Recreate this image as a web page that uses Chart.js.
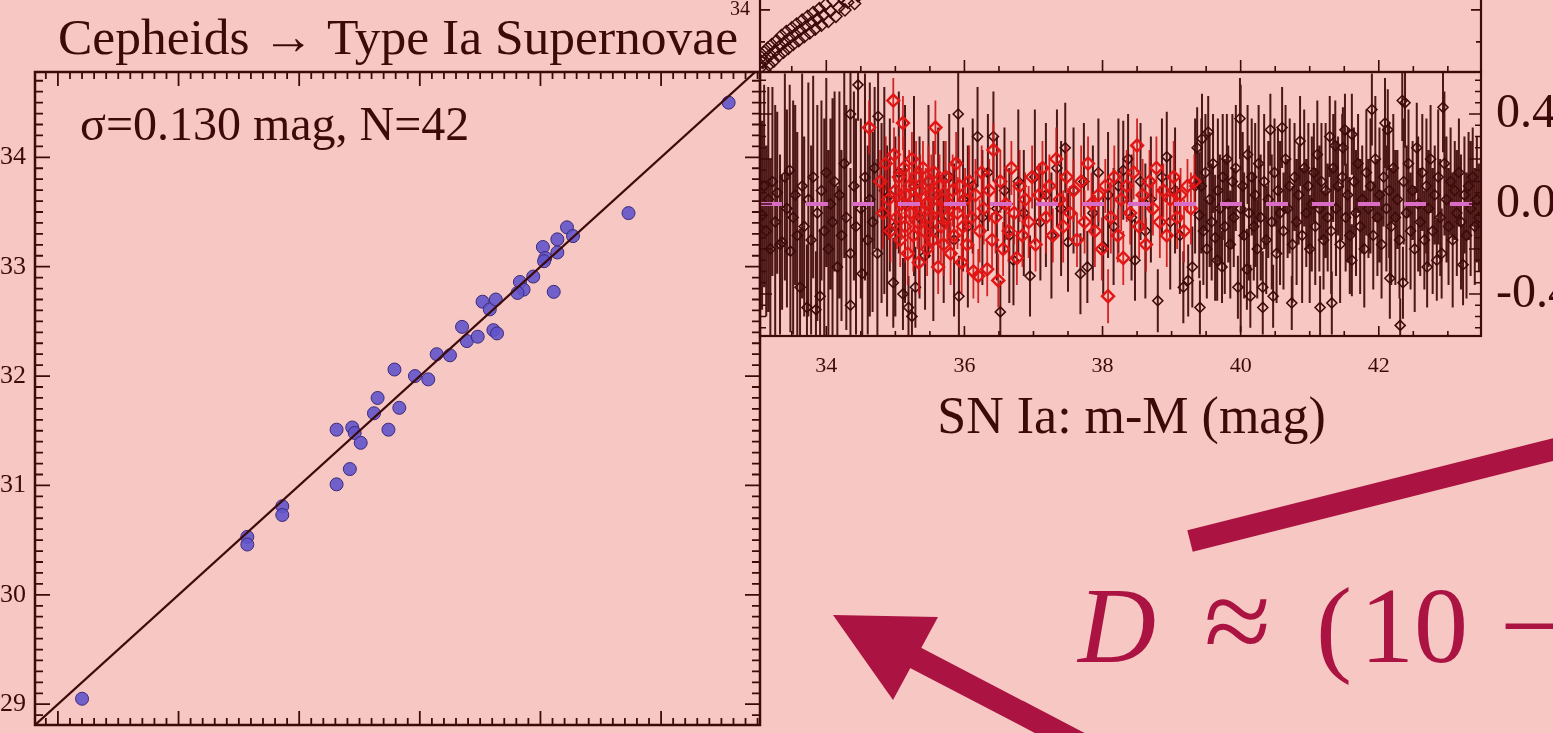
<!DOCTYPE html>
<html>
<head>
<meta charset="utf-8">
<title>Cepheids → Type Ia Supernovae</title>
<script src="https://cdn.jsdelivr.net/npm/chart.js@4.4.1/dist/chart.umd.min.js"></script>
<style>
  html, body { margin: 0; padding: 0; width: 1553px; height: 733px; overflow: hidden; background: #f7c8c3; }
  canvas { position: absolute; }
  #ceph { left: -60px; top: 0; }
  #hubble { left: 700px; top: -230px; }
  #resid { left: 700px; top: 0; }
  #notes { position: absolute; left: 0; top: 0; }
</style>
</head>
<body>
<canvas id="ceph" width="830" height="780"></canvas>
<canvas id="hubble" width="900" height="332"></canvas>
<canvas id="resid" width="900" height="480"></canvas>
<svg id="notes" width="1553" height="733" viewBox="0 0 1553 733">
  <g fill="#ab1342">
    <line x1="1190" y1="541" x2="1575" y2="444" stroke="#ab1342" stroke-width="22"/>
    <line x1="912" y1="656" x2="1100" y2="754" stroke="#ab1342" stroke-width="23"/>
    <polygon points="833,615 938,617 893,700"/>
    <text y="662" font-family="'Liberation Serif', 'Times New Roman', serif" font-size="108">
      <tspan x="1078" font-style="italic">D</tspan><tspan x="1204" font-size="122">≈</tspan><tspan x="1316">(</tspan><tspan x="1360">10</tspan><tspan x="1500">−</tspan>
    </text>
  </g>
</svg>
<script>
// Cepheid host distances: [SN Ia m-M, Cepheid m-M]
const cephPts = [
  [29.20,29.05],[30.57,30.53],[30.57,30.46],[30.86,30.81],[30.86,30.73],[31.31,31.01],
  [31.42,31.15],[31.31,31.51],[31.44,31.53],[31.46,31.48],[31.51,31.39],[31.74,31.51],
  [31.62,31.66],[31.65,31.80],[31.83,31.71],[31.79,32.06],[31.96,32.00],[32.07,31.97],
  [32.14,32.20],[32.25,32.19],[32.35,32.45],[32.39,32.32],[32.48,32.36],[32.61,32.42],
  [32.64,32.39],[32.52,32.68],[32.58,32.61],[32.63,32.70],[32.83,32.86],[32.86,32.79],
  [32.81,32.76],[32.94,32.91],[33.11,32.77],[33.02,33.18],[33.04,33.08],[33.03,33.05],
  [33.14,33.25],[33.14,33.13],[33.22,33.36],[33.27,33.28],[33.73,33.49],[34.56,34.50]
];
const fitLine = [28.81, 34.82];
const cephTicks = [29, 30, 31, 32, 33, 34];

// Hubble diagram (upper panel), only its lower-left corner is in view
const hubbleMu = [
  [33.05,33.10],[33.06,33.26],[33.08,33.18],[33.10,33.34],[33.11,33.06],[33.13,33.24],
  [33.15,33.40],[33.17,33.14],[33.19,33.30],[33.21,33.46],[33.24,33.20],[33.26,33.36],
  [33.28,33.52],[33.31,33.28],[33.33,33.44],[33.35,33.60],[33.38,33.34],[33.40,33.50],
  [33.42,33.66],[33.45,33.40],[33.47,33.56],[33.50,33.72],[33.52,33.46],[33.55,33.62],
  [33.57,33.78],[33.60,33.52],[33.62,33.68],[33.65,33.84],[33.68,33.58],[33.70,33.74],
  [33.73,33.90],[33.76,33.64],[33.78,33.80],[33.81,33.96],[33.84,33.70],[33.87,33.86],
  [33.90,34.02],[33.93,33.76],[33.96,33.92],[33.99,34.08],[34.03,33.82],[34.06,33.98],
  [34.10,34.14],[34.14,33.90],[34.18,34.04],[34.22,34.20],[34.27,34.00],[34.31,34.12],
  [34.36,34.26],[34.41,34.10],[34.46,34.22],[34.52,34.34],[34.58,34.30]
];
const hubbleTicksY = [34, 35, 36, 37];

// Hubble residuals: [m-M, residual, error]
const residDark = [
  [33.07,-0.05,0.42],[33.10,0.08,0.45],[33.13,-0.12,0.38],[33.16,0.02,0.50],[33.19,-0.20,0.40],[33.22,0.10,0.42],
  [33.26,-0.08,0.52],[33.29,0.05,0.36],[33.33,-0.18,0.40],[33.36,-0.17,0.30],[33.40,0.12,0.46],[33.43,-0.02,0.44],
  [33.47,0.15,0.38],[33.48,-0.21,0.36],[33.52,-0.06,0.52],[33.55,0.04,0.40],[33.58,-0.14,0.46],[33.62,-0.37,0.26],
  [33.65,0.08,0.50],[33.68,-0.10,0.40],[33.72,-0.46,0.28],[33.74,0.02,0.52],[33.78,-0.16,0.42],[33.81,0.12,0.45],
  [33.85,-0.47,0.26],[33.87,-0.04,0.48],[33.91,-0.41,0.30],[33.93,0.06,0.40],[33.97,-0.12,0.50],[34.00,0.14,0.42],
  [34.03,-0.20,0.44],[34.06,0.00,0.38],[34.09,-0.08,0.55],[34.12,0.10,0.40],[34.16,-0.28,0.36],[34.19,0.04,0.46],
  [34.22,-0.14,0.38],[34.26,0.18,0.42],[34.29,-0.06,0.50],[34.35,0.40,0.22],[34.35,-0.22,0.38],[34.35,-0.45,0.24],
  [34.40,0.08,0.42],[34.43,-0.10,0.48],[34.46,0.53,0.16],[34.50,-0.02,0.40],[34.52,-0.31,0.32],[34.56,0.12,0.46],
  [34.60,-0.16,0.42],[34.63,0.02,0.52],[34.67,-0.08,0.40],[34.70,0.16,0.36],[34.74,-0.22,0.42],[34.75,0.39,0.22],
  [34.80,-0.04,0.40],[34.84,0.06,0.46],[34.88,-0.12,0.38],
  [34.92,0.04,0.34],[34.97,-0.35,0.20],[35.00,-0.10,0.40],[35.05,0.14,0.36],[35.11,-0.40,0.16],[35.14,0.00,0.44],
  [35.19,-0.46,0.14],[35.24,-0.50,0.12],[35.27,0.08,0.40],[35.29,-0.37,0.18],[35.35,-0.06,0.36],[35.43,-0.23,0.24],
  [35.48,0.10,0.34],[35.55,-0.12,0.40],[35.62,0.04,0.30],[35.70,-0.08,0.36],[35.78,0.12,0.28],[35.85,-0.16,0.34],
  [35.91,0.40,0.22],[35.92,-0.41,0.18],[35.98,0.02,0.32],[36.05,-0.10,0.36],[36.12,0.08,0.30],[36.19,0.30,0.22],
  [36.26,-0.06,0.30],[36.34,0.14,0.26],[36.42,0.30,0.20],[36.47,-0.02,0.32],[36.52,-0.48,0.14],[36.58,0.06,0.28],
  [36.65,-0.14,0.30],[36.71,-0.25,0.20],[36.78,0.10,0.32],[36.86,-0.04,0.28],[36.95,-0.32,0.18],[37.02,0.12,0.30],
  [37.10,-0.08,0.26],[37.18,0.04,0.32],[37.26,-0.14,0.28],[37.34,0.16,0.26],[37.40,-0.02,0.30],[37.46,0.25,0.20],
  [37.50,-0.17,0.22],[37.58,0.06,0.28],[37.68,-0.31,0.18],[37.73,0.10,0.26],[37.78,-0.28,0.16],[37.86,-0.04,0.30],
  [37.94,0.14,0.24],[38.01,-0.19,0.22],[38.08,0.04,0.28],[38.16,-0.10,0.26],[38.23,0.08,0.30],[38.30,0.15,0.22],
  [38.37,0.20,0.20],[38.42,-0.06,0.28],[38.47,-0.25,0.18],[38.55,0.10,0.26],[38.62,-0.12,0.30],[38.70,0.02,0.28],
  [38.80,-0.43,0.14],[38.86,0.12,0.26],[38.93,0.21,0.20],[38.98,-0.08,0.30],[39.05,0.06,0.28],[39.12,-0.14,0.26],
  [39.17,-0.37,0.16],[39.24,-0.34,0.16],[39.30,-0.28,0.18],[39.34,0.08,0.30],
  [39.40,-0.05,0.28],[39.41,-0.46,0.12],[39.37,0.25,0.18],[39.44,0.29,0.20],[39.43,0.08,0.30],[39.46,-0.12,0.24],
  [39.49,0.14,0.26],[39.51,-0.20,0.22],[39.53,0.32,0.16],[39.55,0.02,0.30],[39.58,-0.08,0.26],[39.60,0.18,0.22],
  [39.63,-0.15,0.28],[39.66,-0.25,0.18],[39.67,0.06,0.32],[39.70,-0.02,0.24],[39.73,-0.28,0.16],[39.74,0.12,0.28],
  [39.77,-0.10,0.30],[39.80,0.20,0.20],[39.82,0.00,0.26],[39.85,-0.18,0.24],[39.88,0.10,0.30],[39.90,-0.06,0.22],
  [39.93,0.16,0.28],[39.96,-0.37,0.14],[39.99,0.38,0.18],[40.00,-0.02,0.55],[40.03,0.08,0.24],[40.05,-0.14,0.28],
  [40.09,-0.29,0.18],[40.10,0.22,0.22],[40.12,-0.04,0.30],[40.14,-0.41,0.14],[40.16,0.12,0.26],[40.19,-0.10,0.24],
  [40.21,0.04,0.32],[40.24,-0.20,0.22],[40.26,0.18,0.26],[40.29,-0.06,0.28],[40.32,-0.37,0.16],[40.32,-0.46,0.12],
  [40.34,0.10,0.30],[40.37,-0.16,0.24],[40.40,0.02,0.26],[40.43,0.33,0.16],[40.45,-0.08,0.30],[40.47,-0.41,0.14],
  [40.49,0.14,0.24],[40.52,-0.22,0.22],[40.54,0.06,0.28],[40.57,-0.04,0.32],[40.60,0.34,0.18],[40.62,-0.12,0.26],
  [40.65,0.20,0.24],[40.68,-0.02,0.22],[40.71,0.08,0.30],[40.74,-0.44,0.12],[40.75,-0.18,0.26],[40.78,0.12,0.24],
  [40.81,-0.08,0.28],[40.84,0.04,0.22],[40.86,0.28,0.20],[40.89,-0.14,0.30],[40.92,0.16,0.26],[40.95,-0.04,0.24],
  [40.98,0.08,0.28],[41.00,-0.20,0.24],[41.03,0.00,0.30],[41.06,0.14,0.22],[41.08,-0.10,0.26],[41.11,0.22,0.24],
  [41.15,-0.46,0.14],[41.14,-0.02,0.28],[41.17,0.10,0.26],[41.20,-0.16,0.22],[41.23,0.06,0.30],[41.26,-0.06,0.24],
  [41.29,0.30,0.18],[41.32,-0.44,0.14],[41.31,-0.12,0.28],[41.34,0.16,0.24],[41.37,0.26,0.20],[41.38,-0.02,0.30],
  [41.41,0.08,0.22],[41.44,-0.18,0.26],[41.47,0.12,0.28],[41.48,0.25,0.18],[41.51,0.33,0.16],[41.52,-0.06,0.24],
  [41.55,0.04,0.30],[41.58,-0.14,0.26],[41.61,0.31,0.18],[41.61,-0.25,0.16],[41.64,0.10,0.24],[41.67,-0.04,0.28],
  [41.70,0.18,0.22],[41.73,-0.10,0.30],[41.76,0.02,0.24],[41.79,-0.20,0.26],[41.82,0.14,0.28],[41.85,-0.02,0.22],
  [41.88,0.08,0.30],[41.90,0.42,0.16],[41.92,-0.14,0.24],[41.95,0.20,0.28],[41.98,-0.06,0.26],[42.01,0.04,0.30],
  [42.04,-0.18,0.24],[42.07,0.12,0.22],[42.09,0.36,0.20],[42.11,-0.02,0.28],[42.13,0.33,0.18],[42.16,-0.33,0.18],
  [42.15,0.06,0.30],[42.18,-0.10,0.26],[42.21,0.16,0.24],[42.24,-0.06,0.30],[42.27,0.02,0.22],[42.31,-0.54,0.12],
  [42.30,-0.16,0.26],[42.34,0.46,0.18],[42.35,-0.35,0.16],[42.36,0.10,0.28],[42.38,0.45,0.20],[42.40,-0.04,0.30],
  [42.43,0.18,0.24],[42.46,-0.12,0.26],[42.49,0.06,0.22],[42.52,-0.20,0.28],[42.55,0.25,0.20],[42.57,0.00,0.30],
  [42.60,-0.08,0.24],[42.63,0.14,0.26],[42.66,-0.16,0.22],[42.70,-0.28,0.18],[42.69,0.08,0.30],[42.72,-0.02,0.26],
  [42.75,0.20,0.24],[42.78,-0.12,0.28],[42.81,0.04,0.22],[42.84,-0.25,0.18],[42.86,0.12,0.30],[42.89,-0.06,0.26],
  [42.91,-0.22,0.20],[42.93,0.43,0.20],[42.95,0.18,0.32],[42.98,0.02,0.28],[43.01,-0.10,0.26],[43.04,0.10,0.24],
  [43.07,-0.16,0.30],[43.10,0.06,0.22],[43.13,-0.04,0.28],[43.16,0.14,0.24],[43.19,-0.08,0.30],[43.22,-0.27,0.18],
  [43.24,0.04,0.26],[43.27,-0.14,0.28],[43.30,0.08,0.24],[43.33,-0.02,0.30],[43.36,0.12,0.22],[43.39,-0.10,0.26],
  [43.42,0.02,0.28],[43.45,-0.06,0.24]
];
const residRed = [
  [34.62,0.34,0.12],[34.78,0.10,0.14],[34.82,-0.04,0.16],[34.86,0.18,0.12],[34.90,0.02,0.18],[34.93,-0.12,0.14],
  [34.97,0.46,0.10],[34.98,0.22,0.12],[35.00,0.06,0.16],[35.02,-0.06,0.14],[35.05,0.12,0.18],[35.07,-0.16,0.12],
  [35.09,0.00,0.16],[35.11,0.36,0.12],[35.12,0.16,0.14],[35.14,-0.10,0.16],[35.16,0.04,0.12],[35.18,-0.22,0.14],
  [35.20,0.08,0.16],[35.22,-0.04,0.18],[35.24,0.20,0.12],[35.26,-0.14,0.16],[35.28,0.02,0.14],[35.30,0.12,0.16],
  [35.32,-0.08,0.12],[35.34,-0.26,0.14],[35.36,0.06,0.16],[35.38,-0.02,0.18],[35.40,0.16,0.12],[35.42,-0.12,0.14],
  [35.44,0.00,0.16],[35.46,-0.20,0.12],[35.48,0.10,0.16],[35.50,-0.06,0.14],[35.52,0.04,0.18],[35.54,-0.16,0.12],
  [35.56,0.14,0.14],[35.58,0.34,0.12],[35.60,-0.02,0.16],[35.62,-0.28,0.12],[35.64,0.08,0.14],[35.66,-0.10,0.16],
  [35.68,0.02,0.12],[35.70,-0.18,0.14],[35.73,0.12,0.16],[35.75,-0.06,0.12],[35.78,0.00,0.18],[35.80,-0.22,0.14],
  [35.83,0.06,0.16],[35.85,-0.14,0.12],[35.88,0.18,0.14],[35.90,-0.04,0.16],[35.93,0.08,0.12],[35.96,-0.26,0.14],
  [35.98,-0.10,0.16],[36.01,0.02,0.14],[36.04,-0.18,0.12],[36.07,0.10,0.16],[36.10,-0.06,0.14],[36.13,-0.30,0.12],
  [36.16,0.04,0.16],[36.20,-0.32,0.12],[36.22,-0.12,0.14],[36.25,0.14,0.12],[36.28,-0.02,0.16],[36.33,-0.29,0.12],
  [36.36,0.06,0.14],[36.40,-0.16,0.12],[36.42,0.24,0.12],[36.45,-0.06,0.16],[36.49,-0.34,0.12],[36.52,0.10,0.14],
  [36.56,-0.20,0.12],[36.60,0.00,0.16],[36.64,-0.12,0.14],[36.68,0.16,0.12],[36.72,-0.04,0.14],[36.76,-0.24,0.12],
  [36.80,0.08,0.16],[36.84,-0.14,0.14],[36.88,0.02,0.12],[36.93,-0.08,0.16],[36.98,0.12,0.14],[37.03,-0.18,0.12],
  [37.08,0.04,0.14],[37.13,0.16,0.12],[37.18,-0.06,0.16],[37.23,0.08,0.14],[37.28,-0.14,0.12],[37.33,0.20,0.14],
  [37.38,0.02,0.12],[37.43,-0.10,0.16],[37.48,0.12,0.14],[37.53,-0.04,0.12],[37.58,0.06,0.14],[37.63,-0.16,0.12],
  [37.69,0.10,0.16],[37.74,-0.08,0.14],[37.79,0.18,0.12],[37.84,0.00,0.14],[37.89,-0.12,0.16],[37.94,0.04,0.12],
  [37.99,-0.20,0.14],[38.04,0.08,0.12],[38.08,-0.41,0.12],[38.12,-0.06,0.16],[38.17,0.12,0.14],[38.22,-0.14,0.12],
  [38.27,0.02,0.14],[38.30,-0.24,0.12],[38.35,0.08,0.16],[38.40,-0.04,0.14],[38.45,0.14,0.12],[38.50,0.26,0.12],
  [38.53,-0.10,0.14],[38.58,0.04,0.16],[38.63,-0.18,0.12],[38.68,0.10,0.14],[38.73,-0.02,0.12],[38.78,0.16,0.14],
  [38.83,-0.08,0.16],[38.88,0.06,0.12],[38.93,-0.14,0.14],[38.98,0.02,0.12],[39.03,0.12,0.16],[39.08,-0.06,0.14],
  [39.13,0.04,0.12],[39.18,-0.12,0.14],[39.23,0.08,0.12],[39.28,-0.02,0.16],[39.33,0.10,0.12]
];
const residRange = [33.04, 43.48];
const resTicksX = [34, 36, 38, 40, 42];
const resTicksY = [0.4, 0.0, -0.4];

const ink = '#3d0a0a';
const serif = "'Liberation Serif', 'Times New Roman', serif";
Chart.defaults.font.family = serif;
Chart.defaults.color = ink;

function steps(from, to, step) {
  const out = [];
  for (let v = from; v <= to + 1e-9; v += step) out.push(+v.toFixed(4));
  return out;
}
const pts = arr => arr.map(p => ({ x: p[0], y: p[1] }));
const fixedTicks = list => s => { s.ticks = list.map(v => ({ value: v })); };
const noGrid = { display: false, drawTicks: false };

// error bars go under each dataset's own markers
const errorBars = {
  id: 'errorBars',
  beforeDatasetDraw(chart, args) {
    const ds = chart.data.datasets[args.index];
    if (!ds.errs) return;
    const { ctx, chartArea: a, scales: { x, y } } = chart;
    ctx.save();
    ctx.beginPath();
    ctx.rect(a.left, a.top, a.width, a.height);
    ctx.clip();
    ctx.strokeStyle = ds.barColor;
    ctx.lineWidth = ds.barWidth;
    ctx.beginPath();
    ds.data.forEach((p, i) => {
      const px = x.getPixelForValue(p.x);
      ctx.moveTo(px, y.getPixelForValue(p.y + ds.errs[i]));
      ctx.lineTo(px, y.getPixelForValue(p.y - ds.errs[i]));
    });
    ctx.stroke();
    ctx.restore();
  }
};

// box with inward tick marks, plus free text
const frame = {
  id: 'frame',
  afterDraw(chart, args, opts) {
    const { ctx, chartArea: a, scales } = chart;
    ctx.save();
    ctx.strokeStyle = ink;
    ctx.lineWidth = opts.lineWidth;
    ctx.strokeRect(a.left, a.top, a.width, a.height);
    ctx.lineWidth = opts.tickWidth;
    ctx.beginPath();
    (opts.sides || []).forEach(s => {
      const sc = scales[s.axis];
      [[s.minor, s.len[1]], [s.major, s.len[0]]].forEach(([vals, len]) => {
        vals.forEach(v => {
          const p = sc.getPixelForValue(v);
          if (s.edge === 'top' || s.edge === 'bottom') {
            if (p < a.left || p > a.right) return;
            const y0 = a[s.edge];
            ctx.moveTo(p, y0);
            ctx.lineTo(p, s.edge === 'top' ? y0 + len : y0 - len);
          } else {
            if (p < a.top || p > a.bottom) return;
            const x0 = a[s.edge];
            ctx.moveTo(x0, p);
            ctx.lineTo(s.edge === 'left' ? x0 + len : x0 - len, p);
          }
        });
      });
    });
    ctx.stroke();
    ctx.fillStyle = ink;
    (opts.texts || []).forEach(t => {
      ctx.font = t.size + 'px ' + serif;
      ctx.textAlign = t.align || 'left';
      ctx.textBaseline = 'alphabetic';
      ctx.fillText(t.text, t.at(a)[0], t.at(a)[1]);
    });
    ctx.restore();
  }
};

// left: Cepheid vs SN Ia distance moduli
new Chart(document.getElementById('ceph'), {
  type: 'scatter',
  data: {
    datasets: [
      { label: 'one-to-one', data: fitLine.map(v => ({ x: v, y: v })), showLine: true,
        borderColor: ink, borderWidth: 2.2, pointRadius: 0, order: 0 },
      { label: 'Cepheid hosts', data: pts(cephPts), pointRadius: 6.5,
        backgroundColor: 'rgba(98,84,202,0.9)', borderColor: '#3b2a78', borderWidth: 1, order: 1 }
    ]
  },
  options: {
    responsive: false,
    animation: false,
    events: [],
    layout: { padding: { top: 72, right: 10, left: 0, bottom: 0 } },
    plugins: {
      legend: { display: false },
      tooltip: { enabled: false },
      frame: {
        lineWidth: 2.5, tickWidth: 1.8,
        sides: [
          { edge: 'bottom', axis: 'x', major: cephTicks, minor: steps(28.9, 34.8, 0.1), len: [14, 7] },
          { edge: 'top', axis: 'x', major: cephTicks, minor: steps(28.9, 34.8, 0.1), len: [14, 7] },
          { edge: 'left', axis: 'y', major: cephTicks, minor: steps(28.9, 34.7, 0.1), len: [15, 8] },
          { edge: 'right', axis: 'y', major: cephTicks, minor: steps(28.9, 34.7, 0.1), len: [15, 8] }
        ],
        texts: [
          { text: 'Cepheids → Type Ia Supernovae', size: 51.5, at: a => [a.left + 23, a.top - 18] },
          { text: 'σ=0.130 mag, N=42', size: 48, at: a => [a.left + 45, a.top + 68] }
        ]
      }
    },
    scales: {
      x: { type: 'linear', min: 28.81, max: 34.82, grid: noGrid, border: { display: false },
           ticks: { display: false }, afterFit: s => { s.height = 55; } },
      y: { type: 'linear', min: 28.81, max: 34.78, grid: noGrid, border: { display: false },
           afterBuildTicks: fixedTicks(cephTicks),
           ticks: { color: ink, font: { size: 26 }, padding: 9 },
           afterFit: s => { s.width = 95; } }
    }
  },
  plugins: [frame]
});

// upper right: Hubble diagram corner
new Chart(document.getElementById('hubble'), {
  type: 'scatter',
  data: {
    datasets: [
      { label: 'SNe Ia', data: pts(hubbleMu), pointStyle: 'rectRot', pointRadius: 6,
        borderColor: ink, borderWidth: 1.5, backgroundColor: 'rgba(0,0,0,0)' }
    ]
  },
  options: {
    responsive: false,
    animation: false,
    events: [],
    layout: { padding: { top: 30, right: 119, left: 0, bottom: 0 } },
    plugins: {
      legend: { display: false },
      tooltip: { enabled: false },
      frame: {
        lineWidth: 2.2, tickWidth: 1.6,
        sides: [
          { edge: 'bottom', axis: 'x', major: resTicksX, minor: steps(33.5, 43.0, 0.5), len: [12, 6] },
          { edge: 'left', axis: 'y', major: hubbleTicksY, minor: steps(33.5, 37.0, 0.5), len: [10, 5] },
          { edge: 'right', axis: 'y', major: hubbleTicksY, minor: steps(33.5, 37.0, 0.5), len: [10, 5] }
        ]
      }
    },
    scales: {
      x: { type: 'linear', min: residRange[0], max: residRange[1], grid: noGrid, border: { display: false },
           ticks: { display: false }, afterFit: s => { s.height = 30; } },
      y: { type: 'linear', min: 33.03, max: 37.28, grid: noGrid, border: { display: false },
           afterBuildTicks: fixedTicks(hubbleTicksY),
           ticks: { color: ink, font: { size: 20 }, padding: 10 },
           afterFit: s => { s.width = 60; } }
    }
  },
  plugins: [frame]
});

// lower right: Hubble residuals
new Chart(document.getElementById('resid'), {
  type: 'scatter',
  data: {
    datasets: [
      { label: 'zero', data: residRange.map(v => ({ x: v, y: 0 })), showLine: true,
        borderColor: '#d96cc4', borderWidth: 4, borderDash: [22, 24], pointRadius: 0, order: 0 },
      { label: 'Cepheid-era SNe', data: pts(residRed), errs: residRed.map(p => p[2]),
        barColor: 'rgba(205,20,20,0.9)', barWidth: 1.8,
        pointStyle: 'rectRot', pointRadius: 6, borderColor: '#e31616', borderWidth: 2.4,
        backgroundColor: 'rgba(0,0,0,0)', order: 1 },
      { label: 'Hubble flow SNe', data: pts(residDark), errs: residDark.map(p => p[2]),
        barColor: 'rgba(62,8,8,0.92)', barWidth: 2,
        pointStyle: 'rectRot', pointRadius: 5, borderColor: ink, borderWidth: 1.6,
        backgroundColor: 'rgba(0,0,0,0)', order: 2 }
    ]
  },
  options: {
    responsive: false,
    animation: false,
    events: [],
    layout: { padding: { top: 72, left: 60, right: 0, bottom: 0 } },
    plugins: {
      legend: { display: false },
      tooltip: { enabled: false },
      frame: {
        lineWidth: 2.2, tickWidth: 1.6,
        sides: [
          { edge: 'bottom', axis: 'x', major: resTicksX, minor: steps(33.5, 43.0, 0.5), len: [10, 5] },
          { edge: 'left', axis: 'y', major: steps(-0.4, 0.4, 0.2), minor: steps(-0.55, 0.55, 0.05), len: [12, 6] },
          { edge: 'right', axis: 'y', major: steps(-0.4, 0.4, 0.2), minor: steps(-0.55, 0.55, 0.05), len: [12, 6] }
        ],
        texts: [
          { text: 'SN Ia: m-M (mag)', size: 52, align: 'center', at: a => [(a.left + a.right) / 2 + 11, a.bottom + 97] }
        ]
      }
    },
    scales: {
      x: { type: 'linear', min: residRange[0], max: residRange[1], grid: noGrid, border: { display: false },
           afterBuildTicks: fixedTicks(resTicksX),
           ticks: { color: ink, font: { size: 22 }, padding: 17 },
           afterFit: s => { s.height = 144; } },
      y: { type: 'linear', position: 'right', min: -0.587, max: 0.587, grid: noGrid, border: { display: false },
           afterBuildTicks: fixedTicks(resTicksY),
           ticks: { color: ink, font: { size: 48 }, padding: 15, callback: v => v.toFixed(1) },
           afterFit: s => { s.width = 119; } }
    }
  },
  plugins: [errorBars, frame]
});
</script>
</body>
</html>
